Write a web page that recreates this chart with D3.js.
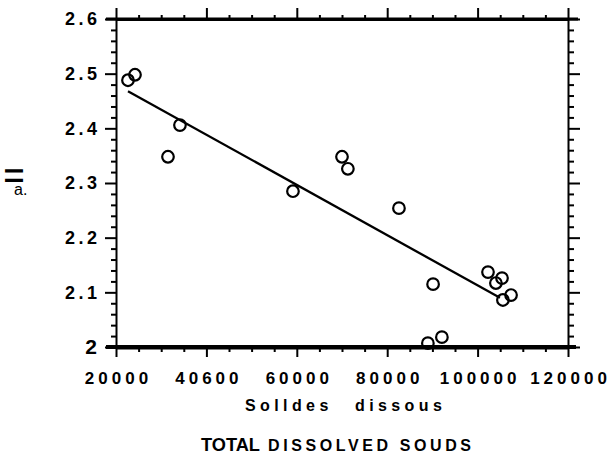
<!DOCTYPE html>
<html>
<head>
<meta charset="utf-8">
<script src="https://cdn.jsdelivr.net/npm/d3@7"></script>
<style>
  html, body { margin: 0; padding: 0; background: #fff; }
  svg { display: block; }
  text { font-family: 'Liberation Sans', Arial, sans-serif; fill: #000; }
</style>
</head>
<body>
<div id="chart"></div>
<script>
// ---------- Data ----------
const tdsValues = [22650, 24200, 31500, 34150, 59150, 70000, 71300, 82600, 90150, 89000, 92100, 102300, 104050, 105400, 105600, 107400];
const phValues  = [2.488, 2.498, 2.348, 2.406, 2.285, 2.348, 2.326, 2.254, 2.115, 2.007, 2.018, 2.137, 2.117, 2.126, 2.086, 2.095];

// fitted line end points
const fitX = [22650, 104950];
const fitY = [2.468, 2.090];

const xTicks = [20000, 40000, 60000, 80000, 100000, 120000];
const xTickLabels = ['20000', '40600', '60000', '80000', '100000', '120000'];
const yTicks = [2, 2.1, 2.2, 2.3, 2.4, 2.5, 2.6];
const yTickLabels = ['2', '2.1', '2.2', '2.3', '2.4', '2.5', '2.6'];

const xTitleWords = ['Solldes', 'dissous'];
const titleBold = 'TOTAL';
const titleRest = 'DISSOLVED SOUDS';

// ---------- Layout ----------
const W = 612, H = 454;
const m = { l: 116, r: 44, t: 19, b: 107 };

const svg = d3.select('#chart').append('svg').attr('width', W).attr('height', H);

const x = d3.scaleLinear().domain([20000, 120000]).range([m.l, W - m.r]);
const y = d3.scaleLinear().domain([2, 2.6]).range([H - m.b, m.t]);

const xMinor = d3.range(20000, 120001, 5000).filter(v => !xTicks.includes(v));
const yMinor = d3.range(2, 2.6001, 0.02).map(v => +v.toFixed(2)).filter(v => !yTicks.some(t => Math.abs(t - v) < 1e-6));

function styleAxis(g, w) {
  g.select('.domain').attr('stroke', '#000').attr('stroke-width', w);
  g.selectAll('.tick line').attr('stroke', '#000').attr('stroke-width', 2);
}

// minor ticks
svg.append('g').attr('transform', `translate(0,${H - m.b})`)
  .call(d3.axisBottom(x).tickValues(xMinor).tickSize(5).tickSizeOuter(0).tickFormat(''))
  .call(g => { styleAxis(g, 0); g.select('.domain').remove(); });
svg.append('g').attr('transform', `translate(0,${m.t})`)
  .call(d3.axisTop(x).tickValues(xMinor).tickSize(4).tickSizeOuter(0).tickFormat(''))
  .call(g => { styleAxis(g, 0); g.select('.domain').remove(); });
svg.append('g').attr('transform', `translate(${m.l},0)`)
  .call(d3.axisLeft(y).tickValues(yMinor).tickSize(5).tickSizeOuter(0).tickFormat(''))
  .call(g => { styleAxis(g, 0); g.select('.domain').remove(); });
svg.append('g').attr('transform', `translate(${W - m.r},0)`)
  .call(d3.axisRight(y).tickValues(yMinor).tickSize(6).tickSizeOuter(0).tickFormat(''))
  .call(g => { styleAxis(g, 0); g.select('.domain').remove(); });

// major ticks + axis lines
const gx = svg.append('g').attr('transform', `translate(0,${H - m.b})`)
  .call(d3.axisBottom(x).tickValues(xTicks).tickSize(10).tickSizeOuter(0).tickFormat((d, i) => xTickLabels[i]).tickPadding(15))
  .call(g => styleAxis(g, 4));
gx.selectAll('.tick text')
  .attr('font-size', 17).attr('font-weight', 'bold')
  .attr('letter-spacing', '4px').attr('dx', '2px');

svg.append('g').attr('transform', `translate(0,${m.t})`)
  .call(d3.axisTop(x).tickValues(xTicks).tickSize(11).tickSizeOuter(0).tickFormat(''))
  .call(g => styleAxis(g, 3));

const gy = svg.append('g').attr('transform', `translate(${m.l},0)`)
  .call(d3.axisLeft(y).tickValues(yTicks).tickSize(11).tickSizeOuter(0).tickFormat((d, i) => yTickLabels[i]).tickPadding(8))
  .call(g => styleAxis(g, 2));
gy.selectAll('.tick text')
  .attr('font-size', (d, i) => i === 0 ? 21 : 18).attr('font-weight', 'bold')
  .attr('letter-spacing', '3.5px').attr('dx', '3.5px');

svg.append('g').attr('transform', `translate(${W - m.r},0)`)
  .call(d3.axisRight(y).tickValues(yTicks).tickSize(12).tickSizeOuter(0).tickFormat(''))
  .call(g => styleAxis(g, 2));

// horizontal frame lines run a little past the side axes
const [x0, x1] = x.range();
svg.append('line').attr('x1', x0 - 10).attr('x2', x1 + 10).attr('y1', m.t).attr('y2', m.t)
  .attr('stroke', '#000').attr('stroke-width', 3);
svg.append('line').attr('x1', x0 - 10).attr('x2', x1 + 8).attr('y1', H - m.b).attr('y2', H - m.b)
  .attr('stroke', '#000').attr('stroke-width', 4);

// ---------- Fit line ----------
svg.append('path')
  .datum(fitX.map((v, i) => [v, fitY[i]]))
  .attr('fill', 'none').attr('stroke', '#000').attr('stroke-width', 2.3)
  .attr('d', d3.line().x(d => x(d[0])).y(d => y(d[1])));

// ---------- Points ----------
svg.append('g').selectAll('circle')
  .data(tdsValues.map((v, i) => ({ x: v, y: phValues[i] })))
  .join('circle')
  .attr('cx', d => x(d.x)).attr('cy', d => y(d.y)).attr('r', 5.8)
  .attr('fill', 'none').attr('stroke', '#000').attr('stroke-width', 2.2);

// ---------- Titles ----------
svg.append('text')
  .attr('x', 245).attr('y', 411)
  .attr('font-size', 16).attr('font-weight', 'bold')
  .attr('letter-spacing', '4.4px')
  .text(xTitleWords[0]);
svg.append('text')
  .attr('x', 355).attr('y', 411)
  .attr('font-size', 16).attr('font-weight', 'bold')
  .attr('letter-spacing', '4.4px')
  .text(xTitleWords[1]);

svg.append('text')
  .attr('x', 201).attr('y', 451)
  .attr('font-size', 18).attr('font-weight', 900)
  .attr('font-family', "'DejaVu Sans', sans-serif")
  .attr('textLength', 59).attr('lengthAdjust', 'spacingAndGlyphs')
  .text(titleBold);
svg.append('text')
  .attr('x', 268).attr('y', 451)
  .attr('font-size', 16).attr('font-weight', 'bold')
  .attr('letter-spacing', '3.6px')
  .text(titleRest);

// y title (garbled in the scan)
svg.append('text')
  .attr('transform', 'translate(23,174) rotate(-90)')
  .attr('text-anchor', 'middle').attr('font-size', 23).attr('font-weight', 'bold')
  .attr('letter-spacing', '3px')
  .text('ll');
svg.append('text')
  .attr('x', 14).attr('y', 195)
  .attr('font-size', 16).attr('font-family', "'Liberation Serif', serif").attr('fill', '#333')
  .text('a.');
</script>
</body>
</html>
